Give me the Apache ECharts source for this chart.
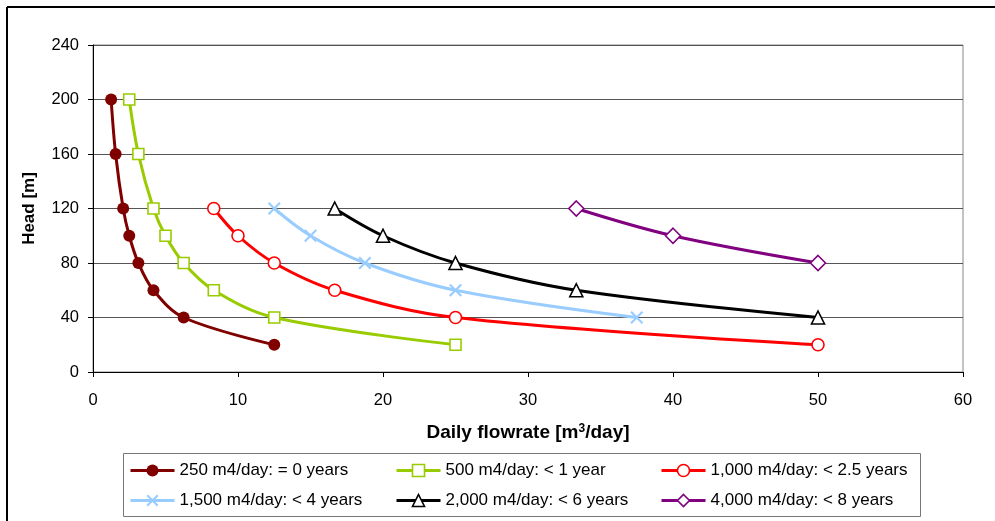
<!DOCTYPE html>
<html>
<head>
<meta charset="utf-8">
<script src="https://cdn.jsdelivr.net/npm/echarts@6/dist/echarts.min.js"></script>
<style>
html,body{margin:0;padding:0;background:#fff;}
#chart{width:995px;height:521px;}
</style>
</head>
<body>
<div id="chart"></div>
<script>
// Data: [daily flowrate (m3/day), head (m)]
const seriesNames = [
  '250 m4/day: = 0 years',
  '500 m4/day: < 1 year',
  '1,000 m4/day: < 2.5 years',
  '1,500 m4/day: < 4 years',
  '2,000 m4/day: < 6 years',
  '4,000 m4/day: < 8 years'
];
const s250 = [[1.25,200],[1.56,160],[2.08,120],[2.5,100],[3.13,80],[4.17,60],[6.25,40],[12.5,20]];
const s500 = [[2.5,200],[3.13,160],[4.17,120],[5,100],[6.25,80],[8.33,60],[12.5,40],[25,20]];
const s1000 = [[8.33,120],[10,100],[12.5,80],[16.67,60],[25,40],[50,20]];
const s1500 = [[12.5,120],[15,100],[18.75,80],[25,60],[37.5,40]];
const s2000 = [[16.67,120],[20,100],[25,80],[33.33,60],[50,40]];
const s4000 = [[33.33,120],[40,100],[50,80]];
const xTicks = [0,10,20,30,40,50,60];
const yTicks = [0,40,80,120,160,200,240];

const FONT = '"Liberation Sans", Arial, sans-serif';
const xPath = 'path://M0,1.2L1.2,0L5,3.8L8.8,0L10,1.2L6.2,5L10,8.8L8.8,10L5,6.2L1.2,10L0,8.8L3.8,5Z';

const styles = [
  {color:'#800000', symbol:'circle', size:12, fill:'#800000'},
  {color:'#99CC00', symbol:'rect', size:11, fill:'#ffffff'},
  {color:'#FF0000', symbol:'circle', size:12, fill:'#ffffff'},
  {color:'#99CCFF', symbol:xPath, size:13, fill:'#99CCFF'},
  {color:'#000000', symbol:'triangle', size:13, fill:'#ffffff'},
  {color:'#800080', symbol:'diamond', size:15, fill:'#ffffff'}
];
const datas = [s250, s500, s1000, s1500, s2000, s4000];

const series = datas.map((d, i) => {
  const st = styles[i];
  const filled = st.fill !== '#ffffff';
  return {
    name: seriesNames[i],
    type: 'line',
    data: d,
    smooth: 0.35,
    symbol: st.symbol,
    symbolSize: st.size,
    showAllSymbol: true,
    lineStyle: {color: st.color, width: 3},
    itemStyle: {
      color: st.fill,
      borderColor: st.color,
      borderWidth: filled ? 0 : 1.6
    },
    emphasis: {disabled: true},
    z: 3
  };
});

// one legend per entry, laid out in a 3x2 table
const colX = [129, 395, 660];
const rowY = [462, 492];
const legends = seriesNames.map((n, i) => ({
  data: [{
    name: n,
    itemStyle: {color: styles[i].fill, borderColor: styles[i].color, borderWidth: styles[i].fill !== '#ffffff' ? 0 : 1.6},
    lineStyle: {color: styles[i].color, width: 3}
  }],
  left: colX[i % 3],
  top: rowY[Math.floor(i / 3)],
  padding: 0,
  itemWidth: 44,
  itemHeight: 15,
  selectedMode: false,
  textStyle: {fontFamily: FONT, fontSize: 17, color: '#000'}
}));

const chart = echarts.init(document.getElementById('chart'), null, {renderer: 'canvas'});
chart.setOption({
  animation: false,
  backgroundColor: '#ffffff',
  grid: {left: 93, right: 32, top: 45, bottom: 149, show: true, borderColor: '#888', borderWidth: 1},
  legend: legends,
  xAxis: {
    type: 'value', min: 0, max: 60, interval: 10,
    name: '{a|Daily flowrate [m}{s|3}{a|/day]}',
    nameLocation: 'middle', nameGap: 51,
    nameTextStyle: {
      rich: {
        a: {fontFamily: FONT, fontSize: 19, fontWeight: 'bold', color: '#000'},
        s: {fontFamily: FONT, fontSize: 12, fontWeight: 'bold', color: '#000', verticalAlign: 'top', padding: [0,0,8,0]}
      }
    },
    axisLine: {show: true, lineStyle: {color: '#000', width: 1}},
    axisTick: {show: true, length: 5, lineStyle: {color: '#000'}},
    axisLabel: {fontFamily: FONT, fontSize: 16.5, color: '#000', margin: 20,
      formatter: v => xTicks.indexOf(v) >= 0 ? String(v) : ''},
    splitLine: {show: false}
  },
  yAxis: {
    type: 'value', min: 0, max: 240, interval: 40,
    name: 'Head [m]',
    nameLocation: 'middle', nameGap: 55,
    nameTextStyle: {fontFamily: FONT, fontSize: 17, fontWeight: 'bold', color: '#000'},
    axisLine: {show: true, lineStyle: {color: '#000', width: 1}},
    axisTick: {show: true, length: 5, lineStyle: {color: '#000'}},
    axisLabel: {fontFamily: FONT, fontSize: 16.5, color: '#000', margin: 14,
      formatter: v => yTicks.indexOf(v) >= 0 ? String(v) : ''},
    splitLine: {show: true, lineStyle: {color: '#555', width: 1}}
  },
  graphic: [
    {type: 'line', shape: {x1: 7, y1: 7, x2: 995, y2: 7}, style: {stroke: '#000', lineWidth: 2}},
    {type: 'line', shape: {x1: 7, y1: 7, x2: 7, y2: 521}, style: {stroke: '#000', lineWidth: 2}},
    {type: 'rect', shape: {x: 123.5, y: 453.5, width: 797, height: 63}, style: {fill: 'none', stroke: '#777', lineWidth: 1}, z: -1}
  ],
  series: series
});
</script>
</body>
</html>
